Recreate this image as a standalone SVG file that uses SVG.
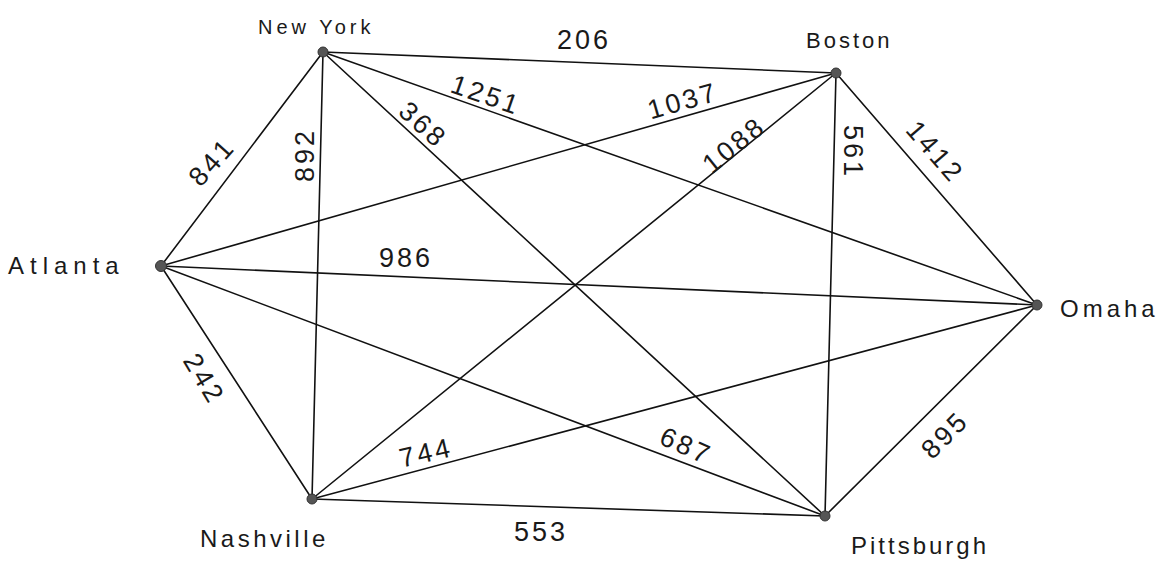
<svg xmlns="http://www.w3.org/2000/svg" width="1159" height="564" viewBox="0 0 1159 564">
<style>
.e{stroke:#111;stroke-width:1.6;fill:none;stroke-linecap:round}
.n{fill:#555;stroke:#333;stroke-width:1}
.c{font-family:"Liberation Sans",Arial,sans-serif;fill:#1a1a1a}
.w{font-family:"Liberation Sans",Arial,sans-serif;font-size:27px;fill:#1a1a1a;text-anchor:middle;dominant-baseline:central;letter-spacing:3px}
</style>
<rect width="1159" height="564" fill="#fff"/>
<g id="connectors">
<line class="e" x1="323" y1="52" x2="836" y2="73"/>
<line class="e" x1="323" y1="52" x2="161" y2="266"/>
<line class="e" x1="323" y1="52" x2="312" y2="499"/>
<line class="e" x1="323" y1="52" x2="825" y2="516"/>
<line class="e" x1="323" y1="52" x2="1037" y2="305"/>
<line class="e" x1="836" y1="73" x2="161" y2="266"/>
<line class="e" x1="836" y1="73" x2="312" y2="499"/>
<line class="e" x1="836" y1="73" x2="825" y2="516"/>
<line class="e" x1="836" y1="73" x2="1037" y2="305"/>
<line class="e" x1="161" y1="266" x2="1037" y2="305"/>
<line class="e" x1="161" y1="266" x2="312" y2="499"/>
<line class="e" x1="161" y1="266" x2="825" y2="516"/>
<line class="e" x1="312" y1="499" x2="1037" y2="305"/>
<line class="e" x1="312" y1="499" x2="825" y2="516"/>
<line class="e" x1="825" y1="516" x2="1037" y2="305"/>
<text class="w" x="584" y="40">206</text>
<text class="w" transform="translate(486,95) rotate(19)">1251</text>
<text class="w" transform="translate(423,125) rotate(42)">368</text>
<text class="w" transform="translate(683,101) rotate(-16)">1037</text>
<text class="w" transform="translate(734,145) rotate(-39)">1088</text>
<text class="w" transform="translate(853,152) rotate(90)">561</text>
<text class="w" transform="translate(935,152) rotate(49)">1412</text>
<text class="w" transform="translate(212,162) rotate(-48)">841</text>
<text class="w" transform="translate(305,155) rotate(-90)">892</text>
<text class="w" x="406" y="258">986</text>
<text class="w" transform="translate(204,379) rotate(59)">242</text>
<text class="w" transform="translate(426,453) rotate(-13)">744</text>
<text class="w" transform="translate(686,446) rotate(24)">687</text>
<text class="w" x="541" y="532">553</text>
<text class="w" transform="translate(945,435) rotate(-45)">895</text>
</g>
<g id="new-york"><circle class="n" cx="323" cy="52" r="5"/><text class="c" x="258" y="34" style="font-size:20px;letter-spacing:4px">New York</text></g>
<g id="boston"><circle class="n" cx="836" cy="73" r="5"/><text class="c" x="806" y="48" style="font-size:22px;letter-spacing:3px">Boston</text></g>
<g id="atlanta"><circle class="n" cx="161" cy="266" r="5.5"/><text class="c" x="8" y="274" style="font-size:24px;letter-spacing:6px">Atlanta</text></g>
<g id="omaha"><circle class="n" cx="1037" cy="305" r="5"/><text class="c" x="1060" y="317" style="font-size:24px;letter-spacing:4px">Omaha</text></g>
<g id="nashville"><circle class="n" cx="312" cy="499" r="5"/><text class="c" x="200" y="547" style="font-size:24px;letter-spacing:3.5px">Nashville</text></g>
<g id="pittsburgh"><circle class="n" cx="825" cy="516" r="5"/><text class="c" x="851" y="554" style="font-size:24px;letter-spacing:3px">Pittsburgh</text></g>
</svg>
